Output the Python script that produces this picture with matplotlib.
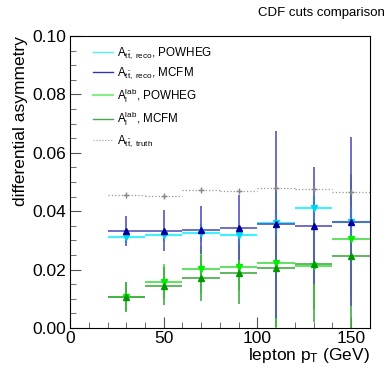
import matplotlib.pyplot as plt
from matplotlib.lines import Line2D
from matplotlib.ticker import MultipleLocator

plt.rcParams['font.family'] = ['Liberation Sans', 'DejaVu Sans']
plt.rcParams['mathtext.fontset'] = 'custom'
plt.rcParams['mathtext.rm'] = 'Liberation Sans'
plt.rcParams['mathtext.it'] = 'Liberation Sans:italic'

# bin centres and half widths (GeV)
pt = [30, 50, 70, 90, 110, 130, 150]
half_bin = [10, 10, 10, 10, 10, 10, 10]

# asymmetry values
reco_powheg = [0.0311, 0.0318, 0.0325, 0.0319, 0.0358, 0.0412, 0.0364]
reco_powheg_err = [0.002, 0.002, 0.003, 0.003, 0.004, 0.004, 0.005]
reco_mcfm = [0.0333, 0.0333, 0.0336, 0.0344, 0.0356, 0.0350, 0.0364]
reco_mcfm_err = [0.0052, 0.007, 0.0083, 0.011, 0.032, 0.020, 0.029]
lab_powheg = [0.0107, 0.0159, 0.0201, 0.0210, 0.0221, 0.0214, 0.0305]
lab_powheg_err = [0.005, 0.006, 0.008, 0.008, 0.025, 0.015, 0.020]
lab_mcfm = [0.0107, 0.0144, 0.0171, 0.0187, 0.0204, 0.0218, 0.0247]
lab_mcfm_err = [0.0051, 0.0066, 0.008, 0.0105, 0.020, 0.0196, 0.028]
truth = [0.0455, 0.0453, 0.0473, 0.0470, 0.0481, 0.0475, 0.0466]
truth_err = [0.0005, 0.0005, 0.0005, 0.0005, 0.0005, 0.0005, 0.0005]

fig = plt.figure(figsize=(3.89, 3.73), dpi=100)
ax = fig.add_axes([0.18, 0.1206, 0.771, 0.7829])

# light green: lepton asymmetry, POWHEG
ax.errorbar(pt, lab_powheg, xerr=half_bin, yerr=lab_powheg_err, fmt='v',
            color='#00ee00', ecolor='#66e066', elinewidth=1.5,
            markersize=4.5, capsize=0)
# dark green: lepton asymmetry, MCFM
ax.errorbar(pt, lab_mcfm, xerr=half_bin, yerr=lab_mcfm_err, fmt='^',
            color='#009900', ecolor='#44aa44', elinewidth=1.2,
            markersize=4.5, capsize=0)
# cyan: ttbar reco asymmetry, POWHEG
ax.errorbar(pt, reco_powheg, xerr=half_bin, yerr=reco_powheg_err, fmt='v',
            color='#00d5f0', ecolor='#44eeff', elinewidth=1.6,
            markersize=4.5, capsize=0)
# blue: ttbar reco asymmetry, MCFM
ax.errorbar(pt, reco_mcfm, xerr=half_bin, yerr=reco_mcfm_err, fmt='^',
            color='#000099', ecolor='#5555bb', elinewidth=1.2,
            markersize=4.5, capsize=0)
# grey dotted: truth
eb = ax.errorbar(pt, truth, xerr=half_bin, yerr=truth_err, fmt='+',
                 color='#888888', ecolor='#999999', elinewidth=0.9,
                 markersize=4, capsize=0)
eb[2][0].set_linestyle(':')

ax.set_xlim(0, 160)
ax.set_ylim(0, 0.10)
ax.xaxis.set_major_locator(MultipleLocator(50))
ax.xaxis.set_minor_locator(MultipleLocator(10))
ax.yaxis.set_major_locator(MultipleLocator(0.02))
ax.yaxis.set_minor_locator(MultipleLocator(0.005))
ax.yaxis.set_major_formatter(plt.FormatStrFormatter('%.2f'))
ax.tick_params(which='both', direction='in', labelsize=12.5, color='#555555')
ax.tick_params(which='major', length=8)
ax.tick_params(which='minor', length=4)
ax.tick_params(axis='x', pad=2)
ax.tick_params(axis='y', pad=3)

ax.set_xlabel(r'lepton p$_\mathrm{T}$ (GeV)', fontsize=12.5, loc='right', labelpad=0)
ax.set_ylabel('differential asymmetry', fontsize=12.5, loc='top', labelpad=3)

fig.text(0.99, 0.965, 'CDF cuts comparison', ha='right', va='center', fontsize=9.5)

handles = [
    Line2D([], [], color='#55eeff', lw=1),
    Line2D([], [], color='#3333aa', lw=1),
    Line2D([], [], color='#88ee88', lw=1.5),
    Line2D([], [], color='#44aa44', lw=1),
    Line2D([], [], color='#999999', lw=0.8, ls=':'),
]
labels = [
    r'$\mathrm{A}_{\mathrm{t\bar{t},\ reco}}$, POWHEG',
    r'$\mathrm{A}_{\mathrm{t\bar{t},\ reco}}$, MCFM',
    r'$\mathrm{A}_{\mathrm{l}}^{\mathrm{lab}}$, POWHEG',
    r'$\mathrm{A}_{\mathrm{l}}^{\mathrm{lab}}$, MCFM',
    r'$\mathrm{A}_{\mathrm{t\bar{t},\ truth}}$',
]
ax.legend(handles, labels, loc='upper left', bbox_to_anchor=(0.06, 0.985),
          frameon=False, fontsize=8.4, handlelength=1.7, handletextpad=0.35,
          labelspacing=0.42, borderaxespad=0)

fig.savefig('out.png', dpi=100)
